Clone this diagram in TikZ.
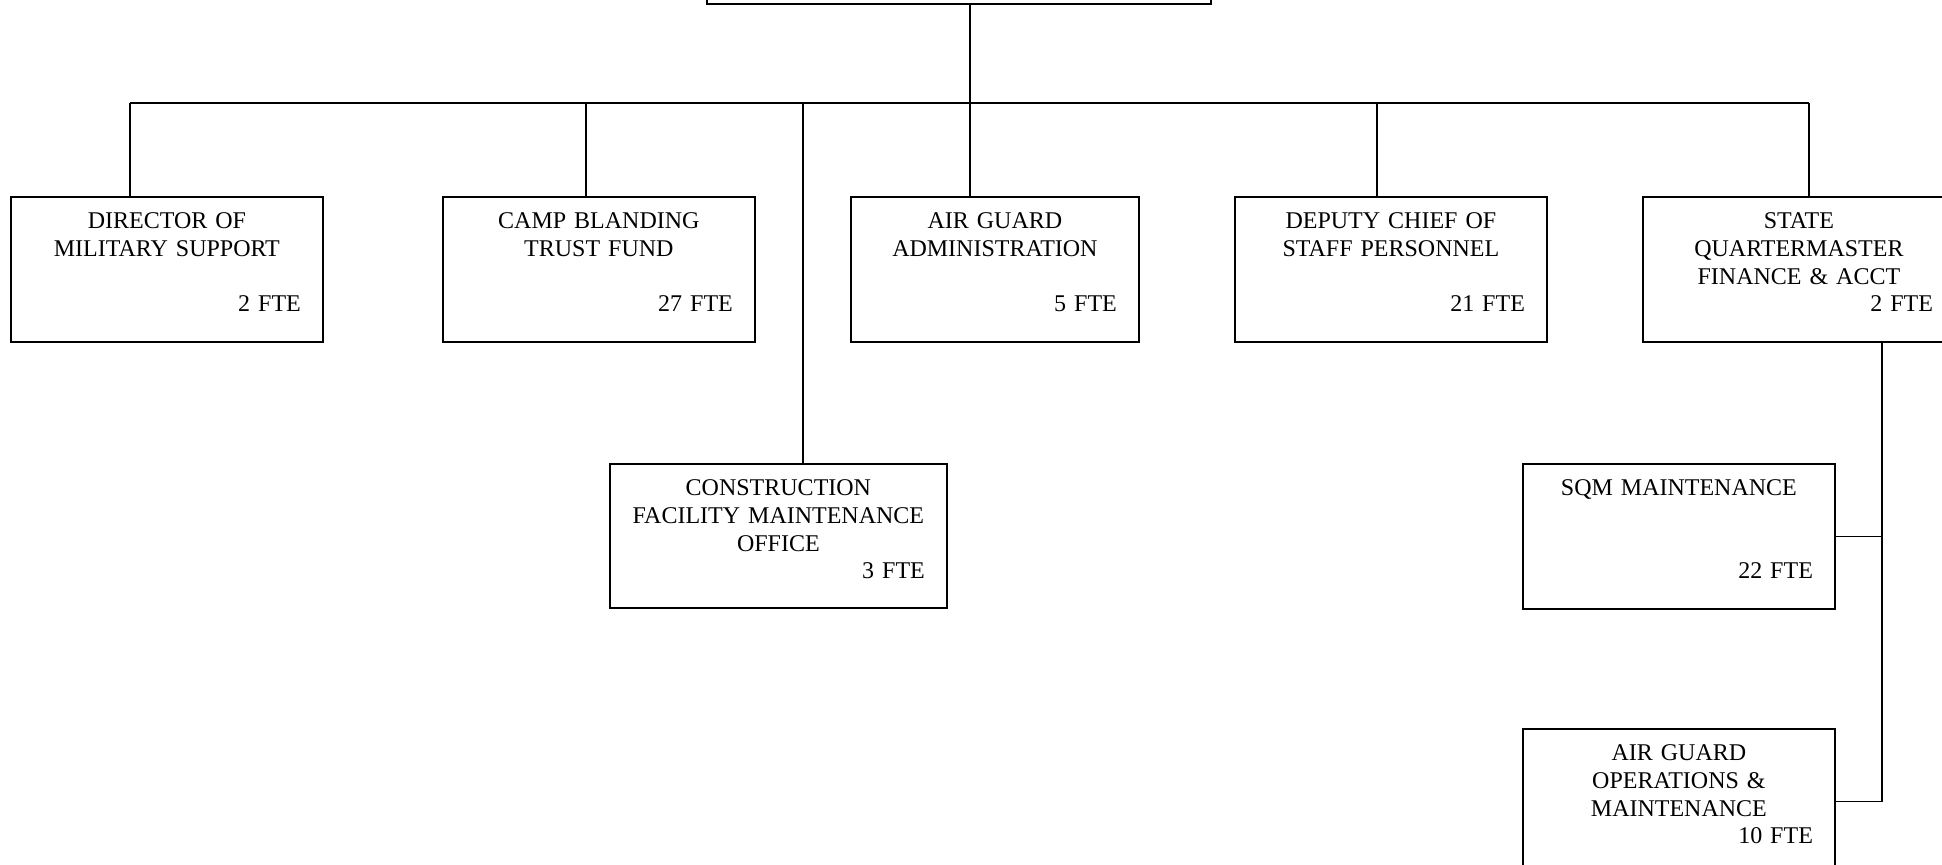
\documentclass[tikz,border=0pt]{standalone}
\usepackage{fontspec}
\setmainfont{Liberation Serif}
\newcommand{\fteline}[1]{\hfill #1\hspace*{11pt}\mbox{}}
\begin{document}
\begin{tikzpicture}[x=0.5pt,y=-0.5pt,
  orgbox/.style={draw, line width=0.9pt, inner sep=0pt, align=center,
    font=\fontsize{12}{13.8}\selectfont, text height=16pt, anchor=north west},
  conn/.style={line width=0.7pt}]
\useasboundingbox (0,0) rectangle (1942,865);
\clip (0,0) rectangle (1942,865);
% top box (mostly above the page)
\node[orgbox, anchor=south west, minimum width=252pt, minimum height=40pt, text height=0pt] (top) at (706,5) {};
% first row
\node[orgbox, text width=156pt, text depth=56.5pt] (b1) at (10,196)
  {DIRECTOR OF\\MILITARY SUPPORT\\\mbox{}\\\fteline{2 FTE}};
\node[orgbox, text width=156pt, text depth=56.5pt] (b2) at (442,196)
  {CAMP BLANDING\\TRUST FUND\\\mbox{}\\\fteline{27 FTE}};
\node[orgbox, text width=144pt, text depth=56.5pt] (b3) at (850,196)
  {AIR GUARD\\ADMINISTRATION\\\mbox{}\\\fteline{5 FTE}};
\node[orgbox, text width=156pt, text depth=56.5pt] (b4) at (1234,196)
  {DEPUTY CHIEF OF\\STAFF PERSONNEL\\\mbox{}\\\fteline{21 FTE}};
\node[orgbox, text width=156pt, text depth=56.5pt] (b5) at (1642,196)
  {STATE\\QUARTERMASTER\\FINANCE \& ACCT\\\fteline{2 FTE}};
% second level
\node[orgbox, text width=168.5pt, text depth=56pt] (b6) at (609,463)
  {CONSTRUCTION\\FACILITY MAINTENANCE\\OFFICE\\\fteline{3 FTE}};
\node[orgbox, text width=156pt, text depth=56.5pt] (b7) at (1522,463)
  {SQM MAINTENANCE\\\mbox{}\\\mbox{}\\\fteline{22 FTE}};
\node[orgbox, text width=156pt, text depth=56.5pt] (b8) at (1522,728)
  {AIR GUARD\\OPERATIONS \&\\MAINTENANCE\\\fteline{10 FTE}};
% connectors
\coordinate (bus) at (970,103);
\coordinate (j1) at (130,103);
\coordinate (j2) at (586,103);
\coordinate (j6) at (803,103);
\coordinate (j3) at (970,103);
\coordinate (j4) at (1377,103);
\coordinate (j5) at (1809,103);
\draw[conn] (top.south -| bus) -- (bus);
\draw[conn] (j1) -- (j5);
\draw[conn] (j1) -- (j1 |- b1.north);
\draw[conn] (j2) -- (j2 |- b2.north);
\draw[conn] (j3) -- (j3 |- b3.north);
\draw[conn] (j4) -- (j4 |- b4.north);
\draw[conn] (j5) -- (j5 |- b5.north);
\draw[conn] (j6) -- (j6 |- b6.north);
\coordinate (q) at (1882,341);
\draw[conn] (q) |- (b8.east);
\draw[conn] (q |- b7.east) -- (b7.east);
\end{tikzpicture}
\end{document}
